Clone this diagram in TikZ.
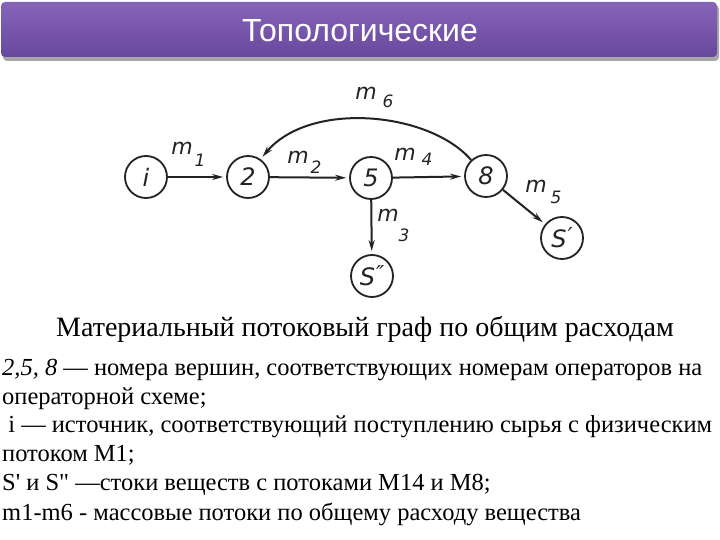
\documentclass[tikz,border=0pt]{standalone}
\usepackage{fontspec}
\setmainfont{Liberation Serif}
\newfontfamily\titlefont{Liberation Sans}
\newfontfamily\gfont{DejaVu Sans}
\usetikzlibrary{arrows.meta,shadows}
\definecolor{bartop}{RGB}{134,100,186}
\definecolor{barbot}{RGB}{104,72,156}
\definecolor{ink}{RGB}{35,35,35}
\tikzset{
  vtx/.style={circle,draw=ink,line width=1.8pt,minimum size=42pt,inner sep=0pt,
    font=\gfont\itshape\fontsize{24}{24}\selectfont,text=ink},
  flow/.style={draw=ink,line width=2pt,-{Stealth[length=11pt,width=6pt]},shorten >=3pt},
  mlab/.style={font=\gfont\itshape\fontsize{22}{22}\selectfont,text=ink,inner sep=0pt},
  sublab/.style={font=\gfont\itshape\fontsize{17}{17}\selectfont,text=ink,inner sep=0pt},
  txt/.style={anchor=base west,inner sep=0pt,font=\fontsize{24.5}{24.5}\selectfont}
}
\begin{document}
\begin{tikzpicture}[x=1pt,y=-1pt]
\useasboundingbox (0,0) rectangle (720,540);
\fill[white] (0,0) rectangle (720,540);
% title bar
\fill[black!35,rounded corners=4pt] (3,5) rectangle (719,61);
\shade[top color=bartop,bottom color=barbot,rounded corners=4pt] (1,2) rectangle (717,57);
\node[font=\titlefont\fontsize{32}{32}\selectfont,text=white] (title) at (360,31) {Топологические};
% graph nodes
\node[vtx] (ni) at (146,177) {i};
\node[vtx] (n2) at (248,177) {2};
\node[vtx] (n5) at (371,178) {5};
\node[vtx] (n8) at (486,176) {8};
\node[vtx] (sp) at (562,238) {S\kern1pt\raisebox{4pt}{\fontsize{22}{22}\selectfont ′}};
\node[vtx] (spp) at (372,276) {S\kern1pt\raisebox{4pt}{\fontsize{22}{22}\selectfont ″}};
% edges
\draw[flow] (ni) -- (n2);
\draw[flow] (n2) -- (n5);
\draw[flow] (n5) -- (n8);
\draw[flow] (n5) -- (spp);
\draw[flow] (n8) -- (sp);
\draw[flow] (n8.133) .. controls (430,112) and (310,100) .. (n2.55);
% flow labels
\node[mlab] (lm1) at (182,148) {m};
\node[sublab] (ls1) at (200,160) {1};
\node[mlab] (lm2) at (298,157) {m};
\node[sublab] (ls2) at (316,167) {2};
\node[mlab] (lm3) at (388,215) {m};
\node[sublab] (ls3) at (404,235) {3};
\node[mlab] (lm4) at (405,154) {m};
\node[sublab] (ls4) at (427,159) {4};
\node[mlab] (lm5) at (536,186) {m};
\node[sublab] (ls5) at (556,197) {5};
\node[mlab] (lm6) at (366,93) {m};
\node[sublab] (ls6) at (388,101) {6};
% texts
\node[anchor=base,inner sep=0pt,font=\fontsize{28}{28}\selectfont] (cap) at (365,336) {Материальный потоковый граф по общим расходам};
\node[txt] (t1) at (2,375) {\textit{2,5, 8} — номера вершин, соответствующих номерам операторов на};
\node[txt] (t2) at (2,404) {операторной схеме;};
\node[txt] (t3) at (2,432) {\ i — источник, соответствующий поступлению сырья с физическим};
\node[txt] (t4) at (2,461) {потоком М1;};
\node[txt] (t5) at (2,490) {S\textquotesingle{} и S\textquotedbl{} —стоки веществ с потоками М14 и М8;};
\node[txt] (t6) at (2,520) {m1-m6 - массовые потоки по общему расходу вещества};
\end{tikzpicture}
\end{document}
